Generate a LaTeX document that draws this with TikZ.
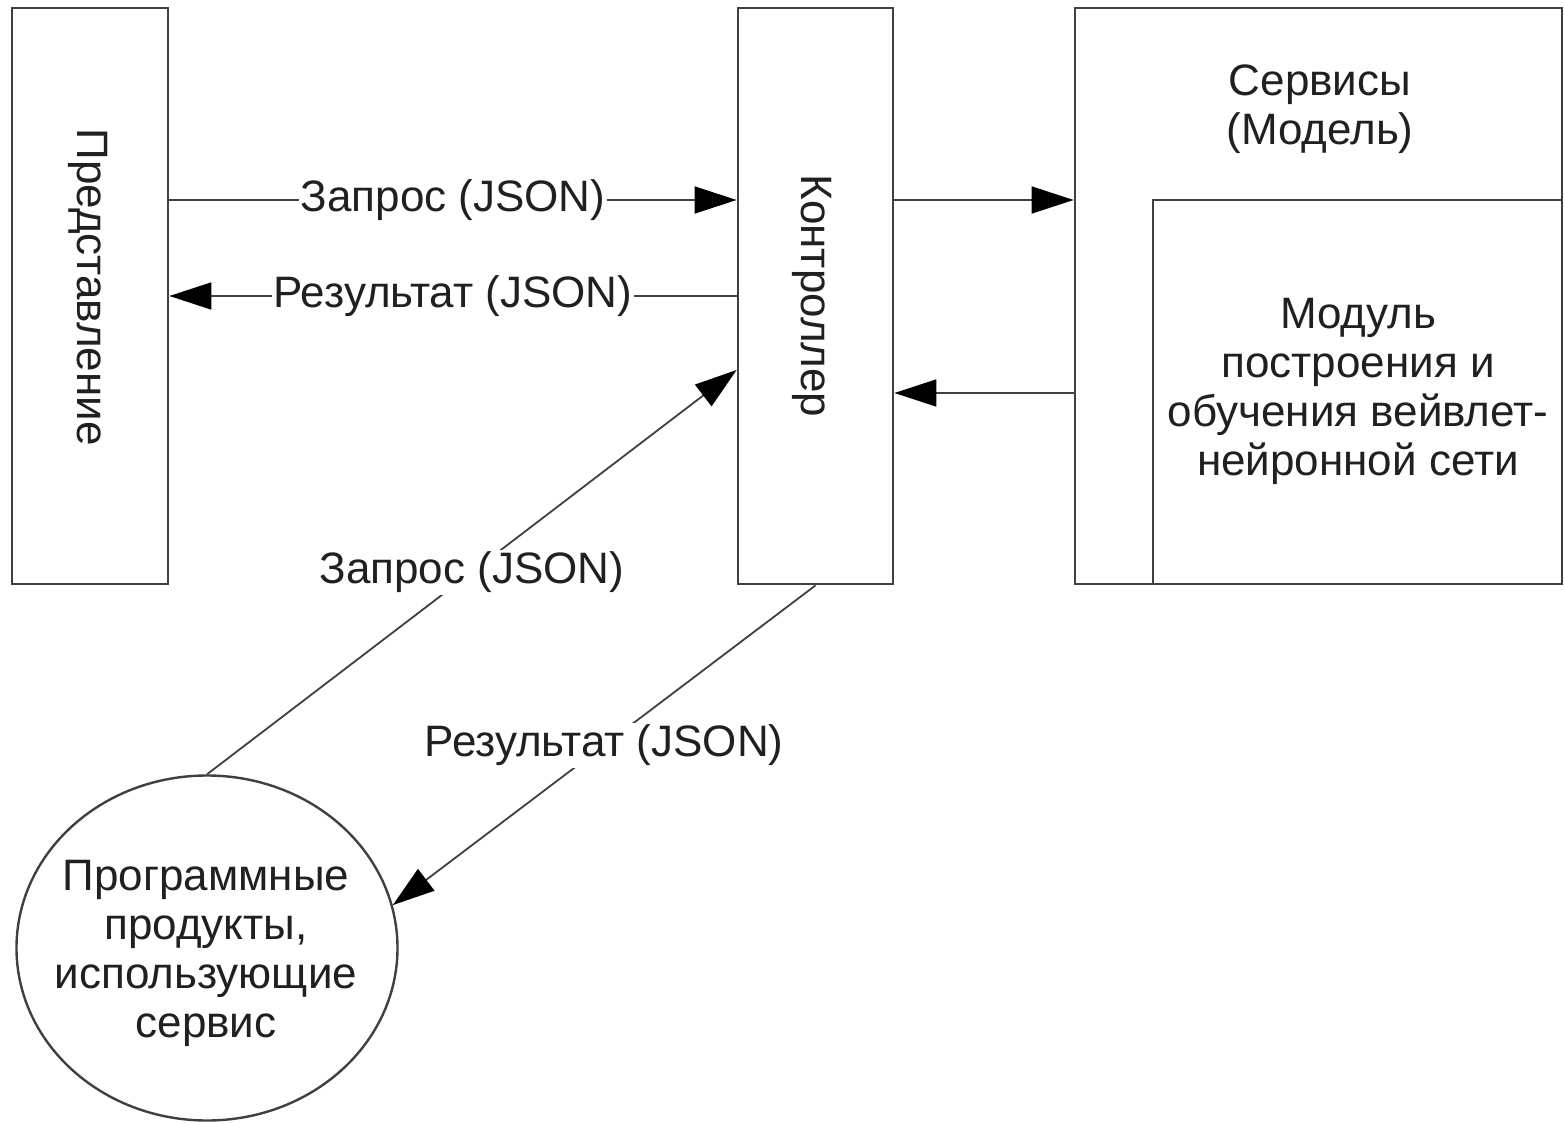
\documentclass[tikz,border=0pt]{standalone}
\usepackage{fontspec}
\setmainfont{Liberation Sans}
\usetikzlibrary{arrows.meta,shapes.geometric}
\definecolor{linec}{HTML}{404040}
\definecolor{txtc}{HTML}{202020}
\begin{document}
\begin{tikzpicture}[x=0.5pt,y=-0.5pt,
  every node/.style={text=txtc,font=\fontsize{22}{24.5}\selectfont},
  box/.style={draw=linec,line width=1.4pt,rectangle,inner sep=0pt},
  conn/.style={draw=linec,line width=0.9pt},
  arr/.style={-{Triangle[length=21pt,width=13.5pt,color=black,fill=black]}},
  lbl/.style={fill=white,inner sep=1pt}]
\useasboundingbox[fill=white] (0,0) rectangle (1564,1123);
% boxes
\node[box,minimum width=78pt,minimum height=288pt] (pred) at (90,296) {};
\node[rotate=-90] (predt) at (88,287) {Представление};
\node[box,minimum width=77.5pt,minimum height=288pt] (ctrl) at (815.5,296) {};
\node[rotate=-90] (ctrlt) at (812,296) {Контроллер};
\node[box,minimum width=243.5pt,minimum height=288pt] (serv) at (1318.5,296) {};
\node[align=center] (servt) at (1320,109) {Сервисы\\(Модель)};
\node[box,minimum width=204.5pt,minimum height=192pt] (mod) at (1357.5,392) {};
\node[align=center] (modt) at (1358,391) {Модуль\\построения и\\обучения вейвлет-\\нейронной сети};
\node[draw=linec,line width=1.2pt,ellipse,inner sep=0pt,minimum width=190.5pt,minimum height=172.5pt] (circ) at (207,948) {};
\node[align=center] (circt) at (206,953) {Программные\\продукты,\\использующие\\сервис};
% connectors
\draw[conn,arr] ([yshift=48pt]pred.east) -- node[lbl]{Запрос (JSON)} ([yshift=48pt]ctrl.west);
\draw[conn,arr] (ctrl.west) -- node[lbl]{Результат (JSON)} (pred.east);
\draw[conn,arr] ([yshift=48pt]ctrl.east) -- ([yshift=48pt]serv.west);
\draw[conn,arr] ([yshift=-48.5pt]serv.west) -- ([yshift=-48.5pt]ctrl.east);
\draw[conn,arr] (circ.north) -- node[lbl]{Запрос (JSON)} ([yshift=-37pt]ctrl.west);
\draw[conn,arr] (ctrl.south) -- node[lbl]{Результат (JSON)} (circ.13);
\end{tikzpicture}
\end{document}
